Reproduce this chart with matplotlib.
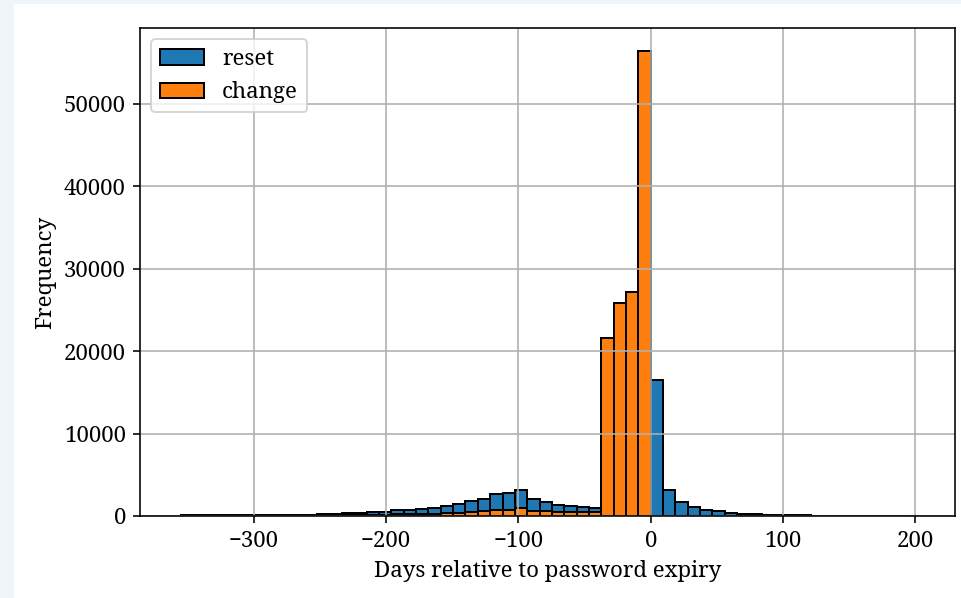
import numpy as np
import matplotlib.pyplot as plt
from matplotlib.patches import Rectangle

plt.rcParams['font.family'] = ['Noto Serif', 'DejaVu Serif']
plt.rcParams['font.size'] = 16
# the reference was drawn at a higher dpi, so scale lines and ticks up
s = 1.44
plt.rcParams['axes.linewidth'] = 0.8 * s
plt.rcParams['grid.linewidth'] = 0.8 * s
plt.rcParams['patch.linewidth'] = 1.0 * s
plt.rcParams['xtick.major.size'] = 3.5 * s
plt.rcParams['ytick.major.size'] = 3.5 * s
plt.rcParams['xtick.major.width'] = 0.8 * s
plt.rcParams['ytick.major.width'] = 0.8 * s
plt.rcParams['xtick.major.pad'] = 3.5 * s
plt.rcParams['ytick.major.pad'] = 3.5 * s
plt.rcParams['axes.labelpad'] = 4.0 * s

# bins are 28/3 days wide, one edge sits at 0
bin_width = 28 / 3
edges = np.arange(-38, 22) * bin_width
centers = (edges[:-1] + edges[1:]) / 2

# counts per bin (bins k=-38 .. 20)
reset = [150, 130, 110, 90, 80, 80, 90, 100, 110, 130,
         160, 200, 250, 330, 410, 490, 540, 690, 770, 890,
         1010, 1220, 1500, 1820, 2060, 2700, 2850, 3180, 2080, 1720,
         1360, 1270, 1110, 980, 700, 600, 500, 400, 16520, 3160,
         1640, 1040, 710, 550, 390, 280, 220, 180, 120, 90,
         70, 60, 50, 40, 35, 30, 25, 20, 15]
change = [20, 20, 20, 20, 20, 25, 30, 35, 40, 50,
          60, 70, 90, 100, 120, 140, 170, 200, 230, 270,
          300, 330, 420, 510, 560, 700, 760, 1000, 600, 560,
          520, 440, 440, 440, 21600, 25780, 27150, 56380, 0, 0,
          0, 0, 0, 0, 0, 0, 0, 0, 0, 0,
          0, 0, 0, 0, 0, 0, 0, 0, 0]

fig = plt.figure(figsize=(9.61, 5.98), dpi=100, facecolor='#eff6f9')
# white card behind the plot
fig.patches.append(Rectangle((14 / 961, 0), 1, 1 - 4 / 598, transform=fig.transFigure,
                             facecolor='white', edgecolor='none', zorder=-1))
ax = fig.add_axes([140 / 961, 1 - 516 / 598, 815 / 961, 488 / 598])

ax.hist(centers, bins=edges, weights=reset, color='#1f77b4', edgecolor='black',
        linewidth=1.0 * s, label='reset')
ax.hist(centers, bins=edges, weights=change, color='#ff7f0e', edgecolor='black',
        linewidth=1.0 * s, label='change')

ax.set_xlim(-386, 230)
ax.set_ylim(0, 59200)
ax.grid(True, color='#b0b0b0')
ax.set_xlabel('Days relative to password expiry')
ax.set_ylabel('Frequency')
ax.legend(loc='upper left')

fig.savefig('out.png', dpi=100, facecolor=fig.get_facecolor())
